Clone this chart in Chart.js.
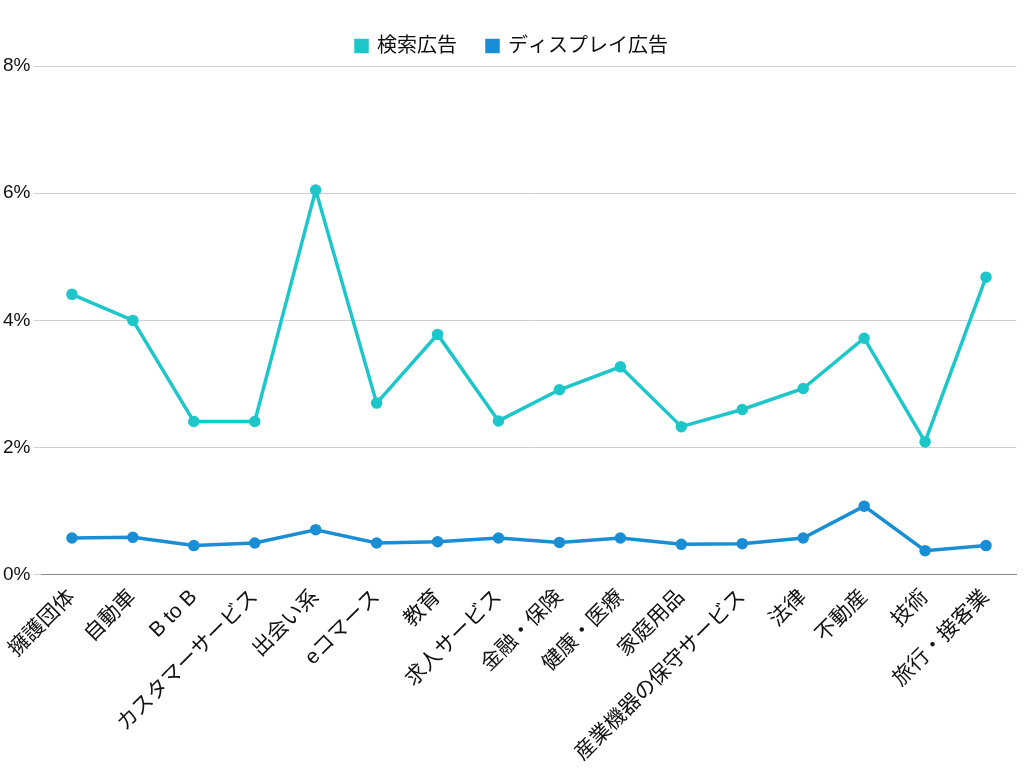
<!DOCTYPE html>
<html><head><meta charset="utf-8">
<script src="https://cdn.jsdelivr.net/npm/chart.js"></script>
<style>body{margin:0;background:#fff}#wrap{width:1024px;height:768px}</style>
</head><body><div id="wrap"><canvas id="c"></canvas></div>
<script>
const categories = ['擁護団体','自動車','B to B','カスタマーサービス','出会い系','eコマース','教育','求人サービス','金融・保険','健康・医療','家庭用品','産業機器の保守サービス','法律','不動産','技術','旅行・接客業'];
const searchRates = [4.41,4.0,2.41,2.41,6.05,2.7,3.78,2.42,2.91,3.27,2.33,2.6,2.93,3.72,2.09,4.68];
const displayRates = [0.58,0.59,0.46,0.5,0.71,0.5,0.52,0.58,0.51,0.58,0.48,0.49,0.58,1.08,0.38,0.46];
const yTicks = [0,2,4,6,8];

Chart.defaults.font.family = "'Liberation Sans', 'Noto Sans CJK JP', sans-serif";
Chart.defaults.color = '#111';

new Chart(document.getElementById('c'), {
  type: 'line',
  data: {
    labels: categories,
    datasets: [
      { label: '検索広告', data: searchRates, borderColor: '#1cc6c9', backgroundColor: '#1cc6c9', borderWidth: 3.5, pointRadius: 4, tension: 0 },
      { label: 'ディスプレイ広告', data: displayRates, borderColor: '#1a8ed5', backgroundColor: '#1a8ed5', borderWidth: 3.5, pointRadius: 4, tension: 0 }
    ]
  },
  options: {
    responsive: true,
    maintainAspectRatio: false,
    animation: false,
    layout: { padding: { left: 0, right: 0, top: 6, bottom: 0 } },
    plugins: {
      legend: { position: 'top', labels: { boxWidth: 11, boxHeight: 11, font: { size: 20 }, padding: 30 } },
      tooltip: { enabled: false }
    },
    scales: {
      x: {
        offset: true,
        grid: { display: false },
        border: { color: '#888' },
        ticks: { maxRotation: 45, minRotation: 45, font: { size: 21 }, autoSkip: false, padding: 2 }
      },
      y: {
        min: 0, max: 8,
        afterBuildTicks: axis => { axis.ticks = yTicks.map(v => ({ value: v })); },
        grid: { color: '#d0d0d0' },
        border: { display: false },
        ticks: { font: { size: 19 }, callback: v => v + '%' }
      }
    }
  }
});
</script></body></html>
